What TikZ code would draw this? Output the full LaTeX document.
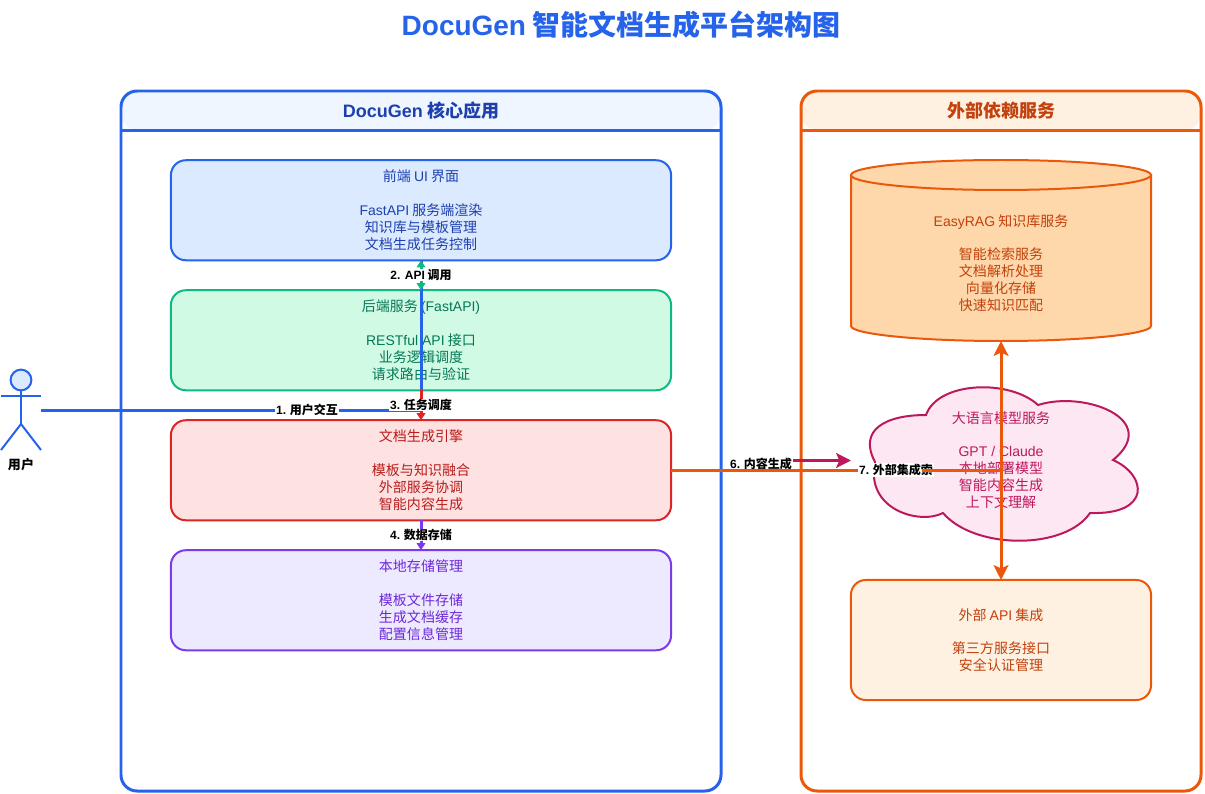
\documentclass[tikz,border=0pt]{standalone}
\usepackage{fontspec}
\setmainfont{Noto Sans CJK SC}
\newfontfamily\lat{Liberation Sans}
\usetikzlibrary{arrows.meta}
\definecolor{coreblue}{HTML}{2563EB}
\definecolor{coretext}{HTML}{1E40AF}
\definecolor{corehead}{HTML}{EFF6FF}
\definecolor{frontfill}{HTML}{DBEAFE}
\definecolor{backline}{HTML}{10B981}
\definecolor{backfill}{HTML}{D1FAE5}
\definecolor{backtext}{HTML}{047857}
\definecolor{engline}{HTML}{DC2626}
\definecolor{engfill}{HTML}{FEE2E2}
\definecolor{engtext}{HTML}{B91C1C}
\definecolor{storeline}{HTML}{7C3AED}
\definecolor{storefill}{HTML}{EDE9FE}
\definecolor{storetext}{HTML}{6D28D9}
\definecolor{extline}{HTML}{EA580C}
\definecolor{exttext}{HTML}{C2410C}
\definecolor{exthead}{HTML}{FFF1E2}
\definecolor{ragfill}{HTML}{FED7AA}
\definecolor{llmline}{HTML}{BE185D}
\definecolor{llmfill}{HTML}{FCE7F3}
\tikzset{
    bodyfont/.style={font=\fontsize{9.96}{11.95}\selectfont},
    lanebox/.style={line width=2.13pt, rounded corners=0.4cm},
    lanetitle/.style={font=\fontsize{12.8}{15}\selectfont\bfseries},
    compbox/.style={bodyfont, align=center, line width=1.42pt, rounded corners=0.37cm,
        minimum width=12.5cm, minimum height=2.5cm, inner sep=0pt, outer sep=0pt},
    textblock/.style={bodyfont, align=center, inner sep=0pt},
    edgelabel/.style={font=\fontsize{8.54}{10}\selectfont\bfseries, fill=white, inner sep=0.5pt},
    thinedge/.style={line width=2.13pt},
    smalltip/.style={-{Triangle[length=5pt,width=6pt]}},
    bigtip/.tip={Stealth[length=10.5pt,width=10.5pt,inset=2.2pt]},
}
\begin{document}
\begin{tikzpicture}[x=0.025cm,y=-0.025cm]
\useasboundingbox (0,0) rectangle (1205,794);

% Title
\node (title) at (621,25) [text=coreblue, font=\fontsize{19.9}{24}\selectfont\bfseries] {{\lat DocuGen} 智能文档生成平台架构图};

% Drawing core lane
\fill [corehead, rounded corners=0.4cm] (121,130) -- (121,91) -- (721,91) -- (721,130) -- cycle;%
\draw [lanebox, coreblue] (121,91) rectangle (721,791);%
\draw [thinedge, coreblue] (121,130.5) -- (721,130.5);%
\node (coretitle) at (421,111) [lanetitle, text=coretext] {{\lat DocuGen} 核心应用};

% Drawing external lane
\fill [exthead, rounded corners=0.4cm] (801,130) -- (801,91) -- (1201,91) -- (1201,130) -- cycle;%
\draw [lanebox, extline] (801,91) rectangle (1201,791);%
\draw [thinedge, extline] (801,130.5) -- (1201,130.5);%
\node (exttitle) at (1001,111) [lanetitle, text=exttext] {外部依赖服务};

% Core components
\node (front) at (421,210.25) [compbox, draw=coreblue, fill=frontfill, text=coretext]
    {前端 {\lat UI} 界面\\~\\{\lat FastAPI} 服务端渲染\\知识库与模板管理\\文档生成任务控制};
\node (backend) at (421,340.25) [compbox, draw=backline, fill=backfill, text=backtext]
    {后端服务 {\lat (FastAPI)}\\~\\{\lat RESTful API} 接口\\业务逻辑调度\\请求路由与验证};
\node (engine) at (421,470.25) [compbox, draw=engline, fill=engfill, text=engtext]
    {文档生成引擎\\~\\模板与知识融合\\外部服务协调\\智能内容生成};
\node (store) at (421,600.25) [compbox, draw=storeline, fill=storefill, text=storetext]
    {本地存储管理\\~\\模板文件存储\\生成文档缓存\\配置信息管理};

% Drawing cylinder
\draw [line width=1.42pt, extline, fill=ragfill] (851,175) -- (851,326)
    .. controls (851,334) and (918,341) .. (1001,341)
    .. controls (1084,341) and (1151,334) .. (1151,326) -- (1151,175) -- cycle;%
\draw [line width=1.42pt, extline, fill=ragfill] (1001,175) ellipse (150 and 15);%
\coordinate (ragbottom) at (1001,341);
\node (rag) at (1001,263) [textblock, text=exttext]
    {{\lat EasyRAG} 知识库服务\\~\\智能检索服务\\文档解析处理\\向量化存储\\快速知识匹配};

% Drawing cloud
\draw [line width=1.42pt, llmline, fill=llmfill] (926,415)
    .. controls (938,381) and (1010,379) .. (1038,405)
    .. controls (1085,390) and (1162,420) .. (1113,460)
    .. controls (1147,475) and (1152,515) .. (1090,513)
    .. controls (1065,550) and (975,550) .. (943,513)
    .. controls (920,525) and (865,510) .. (875,462)
    .. controls (858,430) and (885,415) .. (926,415) -- cycle;%
\node (llm) at (1001,460) [textblock, text=llmline]
    {大语言模型服务\\~\\{\lat GPT / Claude}\\本地部署模型\\智能内容生成\\上下文理解};

% External API box
\node (extapi) at (1001,640) [compbox, minimum width=7.5cm, minimum height=3cm, draw=extline, fill=exthead, text=exttext]
    {外部 {\lat API} 集成\\~\\第三方服务接口\\安全认证管理};

% Drawing actor
\node (head) at (21,380) [circle, draw=coreblue, fill=frontfill, line width=1.42pt, minimum size=0.52cm, inner sep=0pt] {};
\coordinate (hip) at (21,424);
\draw [line width=1.42pt, coreblue] (head.south) -- (hip);%
\draw [line width=1.42pt, coreblue] (1,396) -- (41,396);%
\draw [line width=1.42pt, coreblue] (1,450) -- (hip) -- (41,450);%
\node (user) at (21,465) [font=\fontsize{9.25}{11}\selectfont\bfseries, inner sep=0pt] {用户};

% Drawing user edge
\coordinate (userport) at (41,410.5);
\coordinate (userbend) at (421,410.5);
\draw [thinedge, coreblue] (userport) -- (userbend) -- (front.south);%
\node (label1) at (307,410) [edgelabel] {{\lat 1.} 用户交互};

% Drawing API edge
\draw [thinedge, backline, {Triangle[length=5pt,width=6pt]}-{Triangle[length=5pt,width=6pt]}] (backend.north) -- (front.south);%
\node (label2) at (421,275) [edgelabel] {{\lat 2. API} 调用};

% Drawing dispatch edge
\draw [thinedge, engline, smalltip] (backend.south) -- (engine.north);%
\node (label3) at (421,405) [edgelabel] {{\lat 3.} 任务调度};

% Drawing storage edge
\draw [thinedge, storeline, smalltip] (engine.south) -- (store.north);%
\node (label4) at (421,535) [edgelabel] {{\lat 4.} 数据存储};

% Drawing content edge
\node (label6) at (761,464) [edgelabel] {{\lat 6.} 内容生成};
\coordinate (llmport) at (851,460.5);
\draw [thinedge, llmline, -bigtip] (label6.east |- llmport) -- (llmport);%

% Drawing external edges
\coordinate (extjoin) at (1001,470.5);
\coordinate (labelcut) at (922,470.5);
\node (label7) at (896,470) [edgelabel] {{\lat 7.} 外部集成索};
\draw [thinedge, extline] (engine.east |- extjoin) -- (label7.west |- extjoin);%
\draw [thinedge, extline] (labelcut) -- (extjoin);%
\draw [thinedge, extline, bigtip-bigtip] (ragbottom) -- (extapi.north);%
\end{tikzpicture}
\end{document}
